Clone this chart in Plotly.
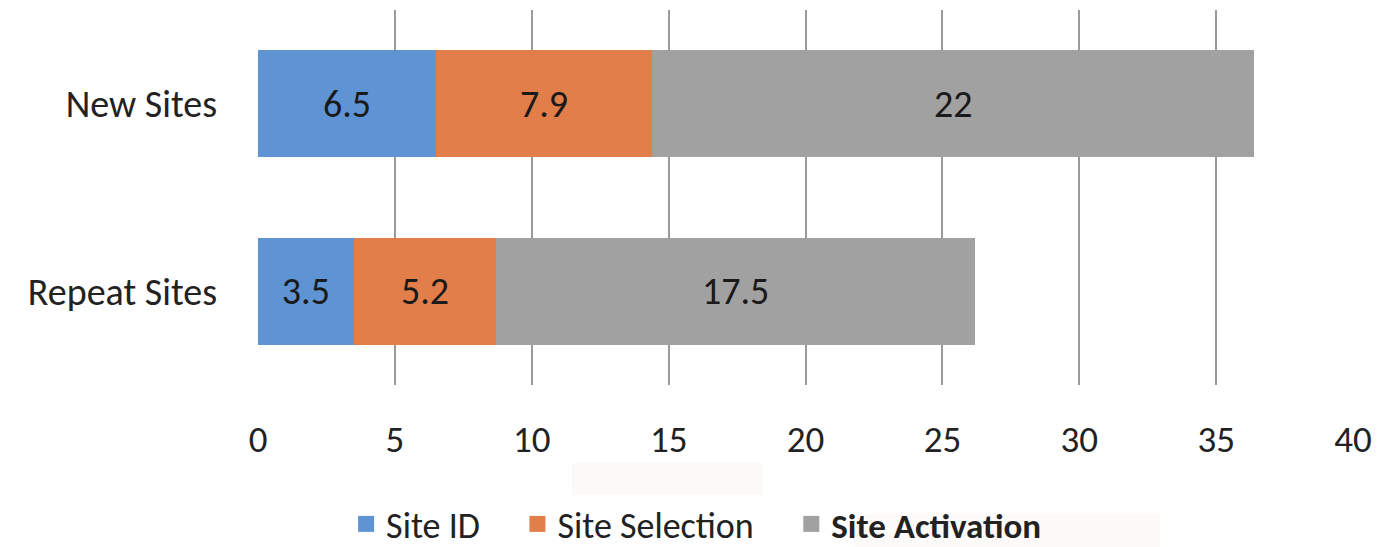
import plotly.graph_objects as go

categories = ["New Sites", "Repeat Sites"]
series_names = ["Site ID", "Site Selection", "Site Activation"]
site_id = [6.5, 3.5]
site_selection = [7.9, 5.2]
site_activation = [22, 17.5]
x_ticks = [0, 5, 10, 15, 20, 25, 30, 35, 40]

colors = ["#5f94d4", "#e17e49", "#a1a1a1"]
FONT = "Carlito, Lato, Open Sans, sans-serif"

# page has an 8px body margin; compensate so the plot lands where the reference has it
W, H = 1380, 539
L, R, T, B = 250, 35, 2, 162
PX0, PX1, PY0, PY1 = 258, 1353, 10, 385  # plot area in page pixels

fig = go.Figure()
ypos = list(range(len(categories)))
pad = "\u00a0" * 4
legend_names = [series_names[0] + pad, series_names[1] + pad,
                '<span style="font-size:35px"><b>' + series_names[2] + '</b></span>']
for name, vals, col in zip(series_names, [site_id, site_selection, site_activation], colors):
    fig.add_trace(go.Bar(
        y=ypos, x=vals, orientation="h", name=name, showlegend=False,
        marker=dict(color=col, line=dict(width=0)),
        width=0.57,
        text=[f"{v:g}" for v in vals], textposition="inside",
        insidetextanchor="middle",
        textfont=dict(size=38, color="#1a1a1a", family=FONT),
    ))
# legend entries (larger square swatches like the reference)
for lname, col in zip(legend_names, colors):
    fig.add_trace(go.Scatter(
        x=[None], y=[None], mode="markers", name=lname,
        marker=dict(symbol="square", size=16, color=col),
        showlegend=True, hoverinfo="skip",
    ))

fig.update_layout(
    width=W, height=H,
    margin=dict(l=L, r=R, t=T, b=B),
    barmode="stack",
    plot_bgcolor="white", paper_bgcolor="white",
    font=dict(family=FONT, size=38, color="#222222"),
    showlegend=True,
    legend=dict(orientation="h", xref="container", yref="container",
                x=0.499, y=23 / H, xanchor="center", yanchor="middle",
                font=dict(size=36, color="#222222", family=FONT),
                itemsizing="trace",
                bgcolor="rgba(0,0,0,0)", traceorder="normal"),
    xaxis=dict(range=[0, 40], tickvals=x_ticks, showgrid=True,
               gridcolor="#9a9a9a", gridwidth=2, zeroline=False,
               showline=False, ticklabelstandoff=29,
               tickfont=dict(size=37, color="#222222")),
    yaxis=dict(range=[1.5, -0.5], tickvals=ypos, ticktext=categories,
               showgrid=False, zeroline=False, showline=False,
               ticklabelstandoff=40,
               tickfont=dict(size=38, color="#222222")),
)


def box(px0, px1, py0, py1, color):
    fig.add_shape(type="rect", xref="paper", yref="paper", layer="below",
                  x0=(px0 - PX0) / (PX1 - PX0), x1=(px1 - PX0) / (PX1 - PX0),
                  y0=(PY1 - py1) / (PY1 - PY0), y1=(PY1 - py0) / (PY1 - PY0),
                  line=dict(width=0), fillcolor=color)


# faint off-white boxes present in the reference image
box(572, 763, 463, 495, "#fbfaf8")
box(854, 1160, 513, 547, "#fcfbfa")

fig.write_html("out.html")
